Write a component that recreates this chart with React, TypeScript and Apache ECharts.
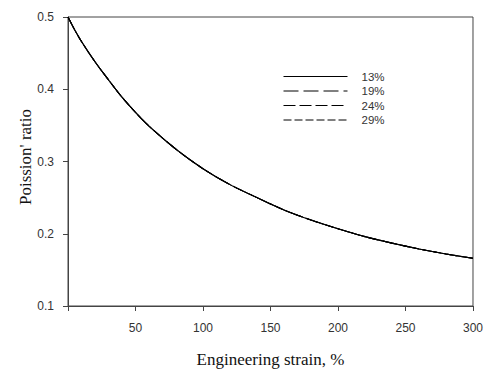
import React, { useEffect, useRef } from "react";
import * as echarts from "echarts";

const strain = [0, 5, 10, 20, 30, 40, 50, 60, 80, 100, 120, 140, 160, 180, 200, 220, 240, 260, 280, 300];
const ratio13 = [0.5, 0.482, 0.466, 0.438, 0.413, 0.389, 0.368, 0.349, 0.317, 0.29, 0.268, 0.25, 0.233, 0.219, 0.207, 0.196, 0.187, 0.179, 0.172, 0.166];
const ratio19 = [0.5, 0.482, 0.466, 0.438, 0.413, 0.389, 0.368, 0.349, 0.317, 0.29, 0.268, 0.25, 0.233, 0.219, 0.207, 0.196, 0.187, 0.179, 0.172, 0.166];
const ratio24 = [0.5, 0.482, 0.466, 0.438, 0.413, 0.389, 0.368, 0.349, 0.317, 0.29, 0.268, 0.25, 0.233, 0.219, 0.207, 0.196, 0.187, 0.179, 0.172, 0.166];
const ratio29 = [0.5, 0.482, 0.466, 0.438, 0.413, 0.389, 0.368, 0.349, 0.317, 0.29, 0.268, 0.25, 0.233, 0.219, 0.207, 0.196, 0.187, 0.179, 0.172, 0.166];
const seriesNames = ["13%", "19%", "24%", "29%"];
const xTicks = [0, 50, 100, 150, 200, 250, 300];
const yTicks = [0.1, 0.2, 0.3, 0.4, 0.5];

export default function App() {
  const ref = useRef<HTMLDivElement>(null);
  useEffect(() => {
    if (!ref.current) return;
    const chart = echarts.init(ref.current, null, { renderer: "svg" });
    const all = [ratio13, ratio19, ratio24, ratio29];
    const dashes: any[] = ["solid", [15, 5], [12, 4], [8, 3]];
    const series = all
      .map((arr, i) => ({
        name: seriesNames[i],
        type: "line",
        data: strain.map((s, j) => [s, arr[j]]),
        smooth: 0.3,
        symbol: "none",
        showSymbol: false,
        lineStyle: { color: "#000", width: 1.1, type: dashes[i] },
        itemStyle: { color: "#000" },
        z: 10 - i,
      }))
      .reverse();
    chart.setOption({
      animation: false,
      backgroundColor: "#fff",
      grid: { left: 68, right: 11, top: 17, bottom: 60, show: true, borderColor: "#444", borderWidth: 1 },
      legend: {
        data: seriesNames,
        orient: "vertical",
        left: 278,
        top: 65.5,
        itemWidth: 64,
        itemHeight: 10,
        itemGap: 2.5,
        itemStyle: { opacity: 0 },
        lineStyle: { width: 1 },
        textStyle: { fontFamily: "Liberation Sans, Arial", fontSize: 11.5, lineHeight: 12, color: "#333", padding: [0, 0, 0, 9] },
      },
      xAxis: {
        type: "value",
        min: xTicks[0],
        max: xTicks[xTicks.length - 1],
        interval: 50,
        name: "Engineering strain, %",
        nameLocation: "middle",
        nameGap: 45,
        nameTextStyle: { fontFamily: "Liberation Serif, Times New Roman", fontSize: 17, color: "#111" },
        axisLine: { lineStyle: { color: "#444", width: 1 } },
        axisTick: { show: true, inside: false, length: 5, lineStyle: { color: "#444" } },
        splitLine: { show: false },
        axisLabel: {
          margin: 16,
          fontFamily: "Liberation Sans, Arial",
          fontSize: 12,
          color: "#333",
          formatter: (v: number) => (v === 0 ? "" : String(v)),
        },
      },
      yAxis: {
        type: "value",
        min: yTicks[0],
        max: yTicks[yTicks.length - 1],
        interval: 0.1,
        axisLine: { show: true, lineStyle: { color: "#444", width: 1 } },
        axisTick: { show: true, inside: false, length: 5, lineStyle: { color: "#444" } },
        splitLine: { show: false },
        axisLabel: {
          margin: 14,
          fontFamily: "Liberation Sans, Arial",
          fontSize: 12,
          color: "#333",
          formatter: (v: number) => v.toFixed(1),
        },
      },
      graphic: [
        {
          type: "text",
          x: 25,
          y: 157,
          rotation: Math.PI / 2,
          style: {
            text: "Poission' ratio",
            fontFamily: "Liberation Serif, Times New Roman",
            fontSize: 17,
            fill: "#111",
            align: "center",
            verticalAlign: "middle",
          },
        },
      ],
      series,
    });
    return () => chart.dispose();
  }, []);
  return <div ref={ref} style={{ width: 486, height: 373, position: "absolute", left: 0, top: 0 }} />;
}
